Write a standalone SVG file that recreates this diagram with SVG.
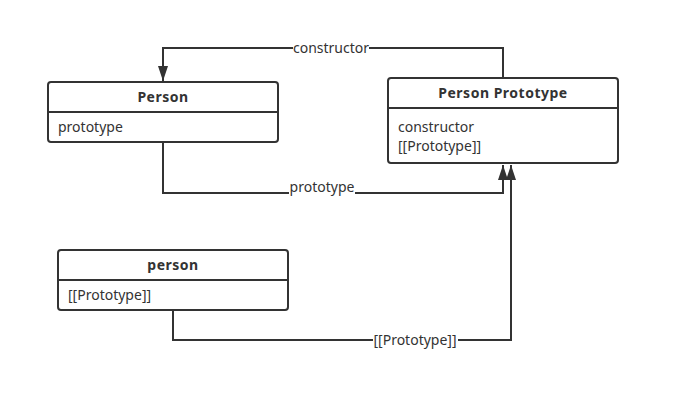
<svg xmlns="http://www.w3.org/2000/svg" width="680" height="401" viewBox="0 0 680 401">
<style>
.box{fill:#fff;stroke:#333;stroke-width:2}
.div{stroke:#333;stroke-width:2}
.t{font-family:"Noto Sans","Open Sans",sans-serif;font-size:14px;fill:#333}
.b{font-weight:bold;text-anchor:middle;letter-spacing:0.5px}
.c{fill:none;stroke:#333;stroke-width:2}
.lbl{text-anchor:middle}
</style>
<defs>
<marker id="ah" viewBox="0 0 15 10" refX="15" refY="5" markerWidth="15" markerHeight="10" markerUnits="userSpaceOnUse" orient="auto">
<path d="M0,0 L15,5 L0,10 Z" fill="#333"/>
</marker>
</defs>
<rect width="680" height="401" fill="#fff"/>
<g id="connectors">
<path class="c" d="M503,78 V48 H163 V81" marker-end="url(#ah)"/>
<path class="c" d="M163,142 V193 H503 V165" marker-end="url(#ah)"/>
<path class="c" d="M173,310 V340 H511 V165" marker-end="url(#ah)"/>
<rect x="293" y="40" width="76" height="16" fill="#fff"/>
<text class="t lbl" x="331" y="53">constructor</text>
<rect x="289" y="179" width="66" height="16" fill="#fff"/>
<text class="t lbl" x="322" y="192">prototype</text>
<rect x="373" y="332" width="85" height="16" fill="#fff"/>
<text class="t lbl" x="415" y="345">[[Prototype]]</text>
</g>
<g id="Person">
<rect class="box" x="48" y="82" width="230" height="60" rx="3"/>
<line class="div" x1="48" y1="112" x2="278" y2="112"/>
<text class="t b" x="163" y="102">Person</text>
<text class="t" x="58" y="132">prototype</text>
</g>
<g id="PersonPrototype">
<rect class="box" x="388" y="78" width="230" height="85" rx="3"/>
<line class="div" x1="388" y1="108" x2="618" y2="108"/>
<text class="t b" x="503" y="98">Person Prototype</text>
<text class="t" x="398" y="132">constructor</text>
<text class="t" x="398" y="151">[[Prototype]]</text>
</g>
<g id="person">
<rect class="box" x="58" y="250" width="230" height="60" rx="3"/>
<line class="div" x1="58" y1="280" x2="288" y2="280"/>
<text class="t b" x="173" y="270">person</text>
<text class="t" x="68" y="300">[[Prototype]]</text>
</g>
</svg>
